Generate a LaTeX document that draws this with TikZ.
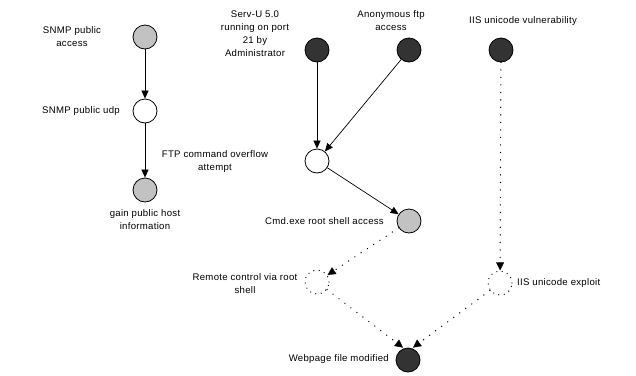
\documentclass[tikz,border=0pt]{standalone}
\usepackage{fontspec}
\setmainfont{Liberation Sans}[LetterSpace=3]
\usetikzlibrary{arrows.meta}
\begin{document}
\begin{tikzpicture}[x=1pt,y=-1pt,
  font=\fontsize{9.6}{13}\selectfont,
  state/.style={circle,draw=black,line width=0.8pt,minimum size=24pt,inner sep=0pt},
  darkst/.style={state,fill=black!80},
  grayst/.style={state,fill=black!24},
  whitest/.style={state,fill=white},
  dotst/.style={state,fill=white,draw=black,line width=1.3pt,dash pattern=on 0pt off 5.5pt,line cap=round},
  lbl/.style={align=center,inner sep=0pt},
  solidedge/.style={draw=black,line width=0.7pt,-{Triangle[length=8pt,width=7pt]}},
  dotedge/.style={draw=black,line width=1.4pt,dash pattern=on 0pt off 7.5pt,line cap=round,
    -{Triangle[length=8pt,width=8pt,line width=0.4pt,line cap=butt]}},
]
\useasboundingbox (0,0) rectangle (636,375);

% left chain
\node[grayst]  (snmpacc) at (145,37) {};
\node[whitest] (snmpudp) at (145,111) {};
\node[grayst]  (gain)    at (145,190) {};

% FTP chain
\node[darkst]  (servu)   at (317,50) {};
\node[darkst]  (anon)    at (409,50) {};
\node[whitest] (ftpov)   at (317,161) {};
\node[grayst]  (cmd)     at (409,221) {};
\node[dotst]   (remote)  at (317,282) {};

% IIS chain
\node[darkst]  (iisvul)  at (501,50) {};
\node[dotst]   (iisexp)  at (500,283) {};

% goal
\node[darkst]  (web)     at (408,360) {};

% labels
\node[lbl] (l1) at (72,37) {SNMP public\\access};
\node[lbl,anchor=east] (l2) at (120,111) {SNMP public udp};
\node[lbl] (l3) at (145,220) {gain public host\\information};
\node[lbl] (l4) at (255,34) {Serv-U 5.0\\running on port\\21 by\\Administrator};
\node[lbl] (l5) at (391,21) {Anonymous ftp\\access};
\node[lbl] (l6) at (523,21) {IIS unicode vulnerability};
\node[lbl] (l7) at (215,162) {FTP command overflow\\attempt};
\node[lbl,anchor=east] (l8) at (384,221) {Cmd.exe root shell access};
\node[lbl] (l9) at (245,284) {Remote control via root\\shell};
\node[lbl,anchor=west] (l10) at (517,283) {IIS unicode exploit};
\node[lbl,anchor=east] (l11) at (389,359) {Webpage file modified};

% edges
\draw[solidedge] (snmpacc) -- (snmpudp);
\draw[solidedge] (snmpudp) -- (gain);
\draw[solidedge] (servu) -- (ftpov);
\draw[solidedge] (anon) -- (ftpov);
\draw[solidedge] (ftpov) -- (cmd);
\draw[dotedge] (cmd) -- (remote);
\draw[dotedge] (iisvul) -- (iisexp);
\draw[dotedge] (remote) -- ([xshift=-5pt]web.north);
\draw[dotedge] (iisexp) -- ([xshift=5pt]web.north);
\end{tikzpicture}
\end{document}
